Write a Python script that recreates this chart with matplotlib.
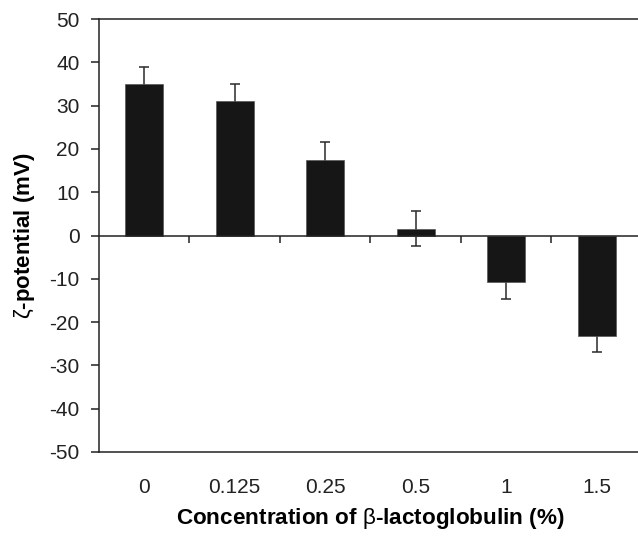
import matplotlib.pyplot as plt
import numpy as np

plt.rcParams['font.family'] = ['Liberation Sans', 'DejaVu Sans']
plt.rcParams['mathtext.fontset'] = 'custom'
plt.rcParams['mathtext.rm'] = 'Liberation Sans'
plt.rcParams['mathtext.it'] = 'Liberation Sans:italic'
plt.rcParams['axes.unicode_minus'] = False

conc = ['0', '0.125', '0.25', '0.5', '1', '1.5']
zeta = [35.0, 31.1, 17.5, 1.6, -10.7, -23.2]
err = [3.9, 3.9, 4.0, 4.0, 3.9, 3.8]

fig = plt.figure(figsize=(6.38, 5.37), dpi=100)
ax = fig.add_axes([0.155, 0.1583, 0.851, 0.8063])

x = np.arange(len(conc))
ax.errorbar(x, zeta, yerr=err, fmt='none', ecolor='#2a2a2a', elinewidth=1.1,
            capsize=3.6, capthick=1.1, zorder=2)
ax.bar(x, zeta, width=0.42, color='#161616', edgecolor='#555555', linewidth=0.5, zorder=3)

# zero line with small ticks between categories
ax.axhline(0, color='#222222', lw=1.1, zorder=4)
ax.vlines(x[:-1] + 0.5, -1.7, 0, color='#222222', lw=1.1, zorder=4)

ax.set_xlim(-0.5, len(conc) - 0.5)
ax.set_ylim(-50, 50)
ax.set_yticks(np.arange(-50, 51, 10))
ax.set_xticks(x)
ax.set_xticklabels(conc)

for s in ['left', 'top', 'bottom']:
    ax.spines[s].set_linewidth(1.1)
    ax.spines[s].set_color('#222222')
ax.spines['right'].set_visible(False)

ax.tick_params(axis='y', direction='out', length=6, width=1.1, pad=8, labelsize=15, colors='#222222')
ax.tick_params(axis='x', length=0, pad=18.5, labelsize=15, colors='#222222')

ax.set_ylabel(r'$\mathrm{\zeta}$-potential (mV)', fontsize=16, fontweight='bold', labelpad=9)
ax.set_xlabel(r'Concentration of $\mathrm{\beta}$-lactoglobulin (%)', fontsize=16.2,
              fontweight='bold', labelpad=7)

fig.savefig('out.png', dpi=100)
